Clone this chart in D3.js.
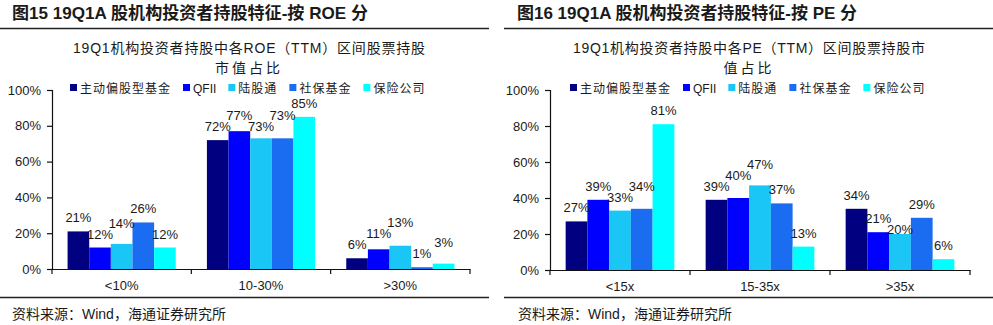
<!DOCTYPE html>
<html><head><meta charset="utf-8">
<script src="https://cdn.jsdelivr.net/npm/d3@7"></script>
<style>
html,body{margin:0;padding:0;background:#fff;}
svg{display:block;}
text{font-family:"Liberation Sans",Arial,"Noto Sans CJK SC",sans-serif;fill:#1a1a1a;}
</style>
</head><body>
<svg id="c" width="993" height="325"></svg>
<script>
// ---- data ----
const seriesNames = ["主动偏股型基金","QFII","陆股通","社保基金","保险公司"];
const seriesColors = ["#000080","#0000ff","#19c6f5","#1a6cf0","#00ffff"];
const yTicks = [0,20,40,60,80,100];
const yTickLabels = ["0%","20%","40%","60%","80%","100%"];

const roeCategories = ["<10%","10-30%",">30%"];
const roeActive = [21,72,6];
const roeQFII = [12,77,11];
const roeHK = [14,73,13];
const roeSocial = [26,73,1];
const roeInsurance = [12,85,3];

const peCategories = ["<15x","15-35x",">35x"];
const peActive = [27,39,34];
const peQFII = [39,40,21];
const peHK = [33,47,20];
const peSocial = [34,37,29];
const peInsurance = [81,13,6];

const leftHeader = "图15 19Q1A 股机构投资者持股特征-按 ROE 分";
const rightHeader = "图16 19Q1A 股机构投资者持股特征-按 PE 分";
const leftTitle = ["19Q1机构投资者持股中各ROE（TTM）区间股票持股","市值占比"];
const rightTitle = ["19Q1机构投资者持股中各PE（TTM）区间股票持股市","值占比"];
const sourceText = "资料来源：Wind，海通证券研究所";

const svg = d3.select("#c");

function panel(o){
  const g = svg.append("g");
  // header
  g.append("text").attr("x",o.headerX).attr("y",19)
    .attr("font-size",17).attr("font-weight","bold")
    .attr("textLength",o.headerW).attr("lengthAdjust","spacingAndGlyphs")
    .text(o.header);
  g.append("line").attr("x1",o.lineX1).attr("x2",o.lineX2).attr("y1",28.5).attr("y2",28.5)
    .attr("stroke","#222").attr("stroke-width",1.5);
  g.append("line").attr("x1",o.lineX1).attr("x2",o.lineX2).attr("y1",297.5).attr("y2",297.5)
    .attr("stroke","#222").attr("stroke-width",1.5);
  g.append("text").attr("x",o.sourceX).attr("y",319).attr("font-size",14)
    .attr("fill","#222").text(sourceText);

  // chart title
  o.title.forEach((t,i)=>{
    const tt = g.append("text").attr("x",o.titleCx).attr("y",53+i*20)
      .attr("text-anchor","middle").attr("font-size",14).attr("fill","#333").text(t);
    if(i===0) tt.attr("textLength",o.titleW).attr("lengthAdjust","spacing");
    else tt.attr("letter-spacing",3);
  });

  const x0 = d3.scaleBand().domain(o.categories).range([o.left,o.right]).paddingInner(0).paddingOuter(0);
  const x1 = d3.scaleBand().domain(seriesNames).range([0,x0.bandwidth()]).paddingInner(0).paddingOuter(0.72);
  const y = d3.scaleLinear().domain([0,100]).range([o.bottom,o.top]);

  // bars
  o.series.forEach((vals,si)=>{
    const sg = g.append("g");
    sg.selectAll("rect").data(vals).join("rect")
      .attr("x",(d,i)=>x0(o.categories[i])+x1(seriesNames[si]))
      .attr("width",x1.bandwidth())
      .attr("y",d=>y(d)).attr("height",d=>y(0)-y(d))
      .attr("fill",seriesColors[si]);
  });

  // labels (outside end, with simple vertical collision separation like the source)
  const minGap = 11;
  const lblG = g.append("g");
  o.categories.forEach((c,ci)=>{
    let prev = null;
    o.series.forEach((vals,si)=>{
      const v = vals[ci];
      let ly = y(v)-9;
      if(prev){
        const dy = Math.abs(ly-prev.y);
        if(dy<minGap){
          ly = (v < prev.v) ? prev.y + minGap : prev.y - minGap;
        }
      }
      lblG.append("text")
        .attr("x",x0(c)+x1(seriesNames[si])+x1.bandwidth()/2)
        .attr("y",ly)
        .attr("text-anchor","middle").attr("font-size",13).attr("fill","#1a1a1a")
        .text(v+"%");
      prev = {y:ly, v:v};
    });
  });

  // y axis
  const ya = d3.axisLeft(y).tickValues(yTicks).tickFormat((d,i)=>yTickLabels[i]).tickSize(5).tickPadding(6);
  const yg = g.append("g").attr("transform",`translate(${o.left},0)`).call(ya);
  yg.select(".domain").attr("stroke","#111").attr("stroke-width",1.2);
  yg.selectAll(".tick line").attr("stroke","#111").attr("stroke-width",1.2);
  yg.selectAll(".tick text").attr("font-size",13).attr("fill","#1a1a1a")
    .attr("font-family","Liberation Sans, Arial, sans-serif");

  // x axis
  const xa = d3.axisBottom(x0).tickSize(0).tickPadding(12);
  const xg = g.append("g").attr("transform",`translate(0,${o.bottom})`).call(xa);
  xg.select(".domain").attr("stroke","#111").attr("stroke-width",1.2);
  xg.selectAll(".tick text").attr("font-size",13).attr("fill","#1a1a1a")
    .attr("font-family","Liberation Sans, Arial, sans-serif");
  // category boundary ticks
  const bounds = o.categories.map(c=>x0(c)).concat([o.right]);
  xg.selectAll("line.bd").data(bounds).join("line").attr("class","bd")
    .attr("x1",d=>d).attr("x2",d=>d).attr("y1",0).attr("y2",5)
    .attr("stroke","#111").attr("stroke-width",1.2);

  // legend
  const lg = g.append("g").attr("transform",`translate(${o.legendX},88)`);
  let cx = 0;
  seriesNames.forEach((n,i)=>{
    lg.append("rect").attr("x",cx).attr("y",-4).attr("width",7).attr("height",7).attr("fill",seriesColors[i]);
    const t = lg.append("text").attr("x",cx+10).attr("y",4.5).attr("font-size",12).attr("fill","#222")
      .attr("letter-spacing",i===1?0:1).text(n);
    cx += 10 + t.node().getComputedTextLength() + 12;
  });
}

panel({
  header:leftHeader, headerX:12, headerW:356, lineX1:0, lineX2:489, sourceX:12,
  title:leftTitle, titleCx:249, titleW:352,
  categories:roeCategories, series:[roeActive,roeQFII,roeHK,roeSocial,roeInsurance],
  left:52, right:470, top:90, bottom:269, legendX:70
});
panel({
  header:rightHeader, headerX:517, headerW:340, lineX1:504, lineX2:993, sourceX:518,
  title:rightTitle, titleCx:749, titleW:352,
  categories:peCategories, series:[peActive,peQFII,peHK,peSocial,peInsurance],
  left:550, right:970, top:90, bottom:270, legendX:570
});
</script>
</body></html>
